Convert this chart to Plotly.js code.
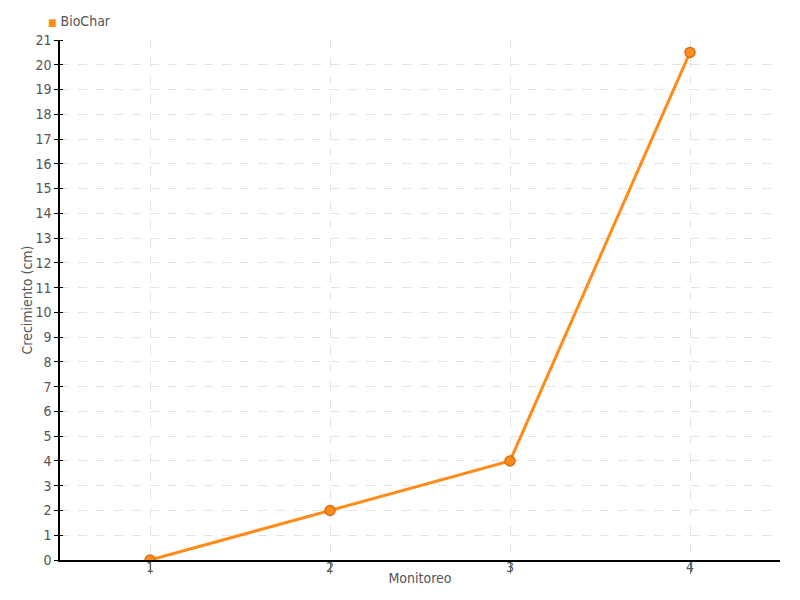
<!DOCTYPE html>
<html>
<head>
<meta charset="utf-8">
<script src="https://cdn.plot.ly/plotly-3.0.1.min.js"></script>
<style>
html,body{margin:0;padding:0;background:#fff;}
#chart{width:800px;height:600px;}
#chart text{font-stretch:condensed;}
</style>
</head>
<body>
<div id="chart"></div>
<script>
const seriesName = "BioChar";
const monitoreo = [1, 2, 3, 4];
const crecimiento = [0, 2, 4, 20.5];
const yTicks = [0,1,2,3,4,5,6,7,8,9,10,11,12,13,14,15,16,17,18,19,20,21];
const xTitle = "Monitoreo";
const yTitle = "Crecimiento (cm)";
const lineColor = '#ff8c1a';

const fontFam = "'DejaVu Sans Condensed', 'DejaVu Sans', sans-serif";

const traces = [
  {
    x: monitoreo, y: crecimiento, type: 'scatter', mode: 'lines+markers',
    name: seriesName, showlegend: false,
    line: {color: lineColor, width: 3},
    marker: {color: lineColor, size: 10, line: {color: '#d9701a', width: 1.5}}
  }
];

const layout = {
  width: 800, height: 600,
  margin: {l: 60, r: 20, t: 40, b: 40},
  paper_bgcolor: '#fff', plot_bgcolor: '#fff',
  font: {family: fontFam, color: '#555', size: 14},
  showlegend: false,
  annotations: [{
    xref: 'paper', yref: 'paper', x: -0.02, y: 1.036, xanchor: 'left', yanchor: 'middle',
    showarrow: false,
    text: '<span style="color:' + lineColor + ';font-size:10px">■</span> ' + seriesName,
    font: {family: fontFam, size: 14, color: '#555'}
  }],
  xaxis: {
    range: [0.5, 4.5], tickvals: monitoreo, ticktext: monitoreo.map(String),
    showgrid: true, gridcolor: '#e3e3e3', griddash: 'dash', gridwidth: 1,
    showline: true, linecolor: '#000', linewidth: 1.5,
    ticks: 'outside', ticklen: 1, tickcolor: '#777', tickwidth: 1,
    ticklabelstandoff: -8,
    minor: {tickmode: 'linear', tick0: 1, dtick: 1, ticks: 'outside', ticklen: 12, tickcolor: '#777', tickwidth: 1, showgrid: false},
    zeroline: false,
    tickfont: {family: fontFam, size: 14, color: '#555'},
    title: {text: xTitle, standoff: 0, font: {family: fontFam, size: 14, color: '#555'}}
  },
  yaxis: {
    range: [0, 21], tickvals: yTicks, ticktext: yTicks.map(String),
    showgrid: true, gridcolor: '#e3e3e3', griddash: 'dash', gridwidth: 1,
    showline: true, linecolor: '#000', linewidth: 1.5,
    ticks: 'outside', ticklen: 4, tickcolor: '#000', tickwidth: 1,
    minor: {tickmode: 'linear', tick0: 0, dtick: 1, ticks: 'inside', ticklen: 3, tickcolor: '#000', tickwidth: 1, showgrid: false},
    zeroline: false,
    tickfont: {family: fontFam, size: 14, color: '#555'},
    title: {text: yTitle, standoff: 0, font: {family: fontFam, size: 14, color: '#555'}}
  }
};

Plotly.newPlot('chart', traces, layout, {displayModeBar: false, responsive: false});
</script>
</body>
</html>
